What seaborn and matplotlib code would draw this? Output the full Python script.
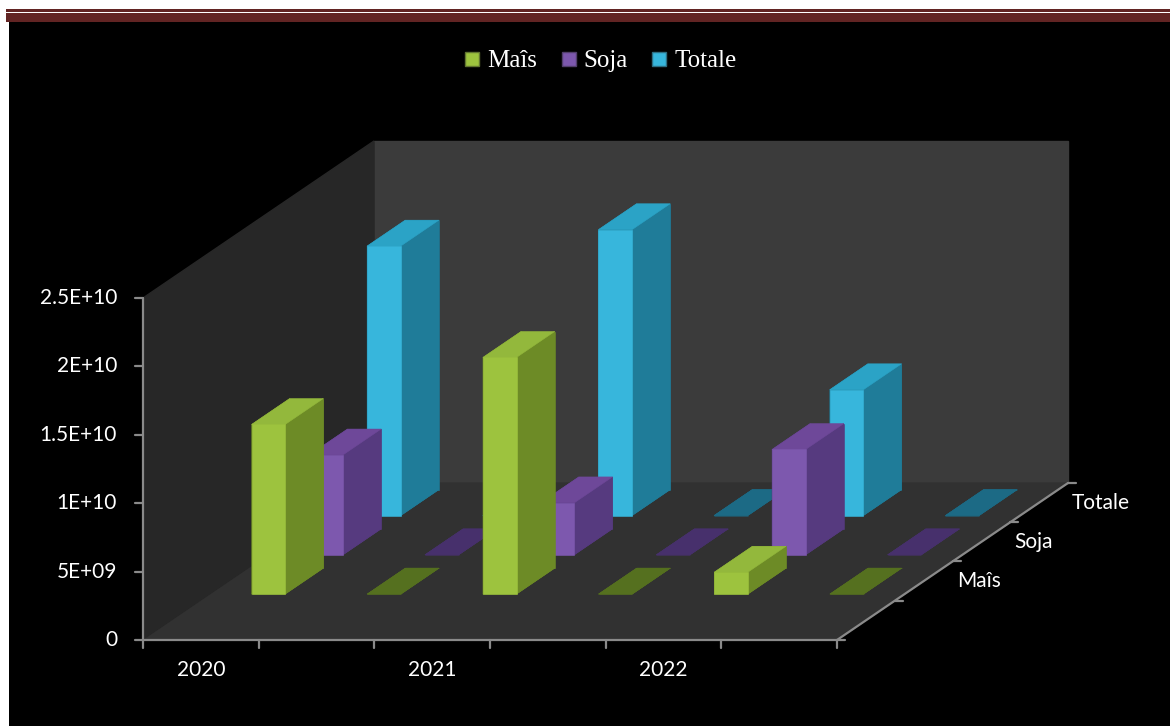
import numpy as np
import matplotlib
matplotlib.use("Agg")
import matplotlib.pyplot as plt
import seaborn as sns
from matplotlib.patches import Rectangle
from matplotlib.lines import Line2D
from mpl_toolkits.mplot3d import proj3d

# ---------------- data ----------------
categories = ["2020", "", "2021", "", "2022", ""]
series = ["Maîs", "Soja", "Totale"]
mais = [1.24e10, 0, 1.73e10, 0, 1.6e9, 0]
soja = [7.3e9, 0, 3.8e9, 0, 7.7e9, 0]
totale = [1.97e10, 0, 2.09e10, 0, 9.2e9, 0]
z_ticks = [0, 5e9, 1e10, 1.5e10, 2e10, 2.5e10]
z_tick_labels = ["0", "5E+09", "1E+10", "1.5E+10", "2E+10", "2.5E+10"]

# ---------------- style ----------------
sns.set_theme(style="dark")
plt.rcParams["font.family"] = ["Lato", "DejaVu Sans"]
try:
    plt.rcParams["axes3d.automargin"] = False
except KeyError:
    pass

# per series: front, side, top, flat (zero height)
face_styles = [
    dict(front="#9DC33E", side="#6D8B26", top="#93B83C", flat="#55701F"),
    dict(front="#7D58AE", side="#563A7F", top="#6E4899", flat="#47306C"),
    dict(front="#37B6DC", side="#1F7C99", top="#2BA3C6", flat="#1C6A85"),
]
legend_colors = sns.color_palette(["#9DC33E", "#7D58AE", "#37B6DC"])

W, H = 1170, 726
fig = plt.figure(figsize=(W / 100, H / 100), dpi=100, facecolor="white")

# page decoration: black panel and maroon rules at the top
fig.add_artist(Rectangle((9 / W, 0), 1 - 9 / W, (H - 22) / H,
                         transform=fig.transFigure, facecolor="black",
                         edgecolor="none", zorder=-10))
fig.add_artist(Rectangle((6 / W, (H - 12) / H), 1 - 6 / W, 3 / H,
                         transform=fig.transFigure, facecolor="#622423",
                         edgecolor="none", zorder=-9))
fig.add_artist(Rectangle((6 / W, (H - 22) / H), 1 - 6 / W, 9 / H,
                         transform=fig.transFigure, facecolor="#622423",
                         edgecolor="none", zorder=-9))

hax = W / H
ax = fig.add_axes([0, (1 - hax) / 2, 1, hax], projection="3d",
                  proj_type="ortho", computed_zorder=False)
ax.patch.set_visible(False)
ax.grid(False)

# frame geometry of the plot box (pixels, rows counted from top)
FRONT_LEFT, FRONT_RIGHT = 143, 837
FRONT_BOTTOM, FRONT_TOP = 640, 298
DEPTH_DX, DEPTH_DY = 231, 157

_orig_get_proj = ax.get_proj


def oblique_proj():
    _orig_get_proj()
    x0, x1 = ax.get_xlim3d()
    y0, y1 = ax.get_ylim3d()
    z0, z1 = ax.get_zlim3d()
    sx = (FRONT_RIGHT - FRONT_LEFT) / (x1 - x0)
    syx = DEPTH_DX / (y1 - y0)
    syy = DEPTH_DY / (y1 - y0)
    sz = (FRONT_BOTTOM - FRONT_TOP) / (z1 - z0)
    P = np.array([
        [sx, syx, 0.0, FRONT_LEFT - sx * x0 - syx * y0],
        [0.0, syy, sz, (H - FRONT_BOTTOM) - syy * y0 - sz * z0],
        [-1e-3 / (x1 - x0), 1.0 / (y1 - y0), -1e-3 / (z1 - z0), 0.0],
        [0.0, 0.0, 0.0, 1.0],
    ])
    T = ax.transData.inverted().get_affine().get_matrix()
    A = np.eye(4)
    A[0, 0], A[0, 1], A[0, 3] = T[0, 0], T[0, 1], T[0, 2]
    A[1, 0], A[1, 1], A[1, 3] = T[1, 0], T[1, 1], T[1, 2]
    return A @ P


ax.get_proj = oblique_proj

# ---------------- bars ----------------
n = len(categories)
bar_w, bar_d = 0.29, 0.66
xs = np.arange(n) + 0.5 - bar_w / 2
values = [mais, soja, totale]
for r, (vals, st) in enumerate(zip(values, face_styles)):
    ys = np.full(n, r + 1.5 - bar_d / 2)
    fcs = []
    for v in vals:
        if v == 0:
            fcs += [st["flat"]] * 6
        else:
            # order: -z, +z, -y, +y, -x, +x
            fcs += [st["side"], st["top"], st["front"], st["side"], st["side"], st["side"]]
    ax.bar3d(xs, ys, np.zeros(n), bar_w, bar_d, vals, color=fcs,
             edgecolor=fcs, linewidth=0.4, shade=False, zorder=3 - r)

# ---------------- limits / panes ----------------
X0, X1 = 0, n
Y0, Y1 = 0, len(series) + 1
Z0, Z1 = z_ticks[0], z_ticks[-1]
ax.set_xlim(X0, X1)
ax.set_ylim(Y0, Y1)
ax.set_zlim(Z0, Z1)
ax.set_xticks([])
ax.set_yticks([])
ax.set_zticks([])
for a, c in zip((ax.xaxis, ax.yaxis, ax.zaxis), ("#272727", "#3b3b3b", "#313131")):
    a.line.set_visible(False)
    a.set_pane_color(c)

sx = (FRONT_RIGHT - FRONT_LEFT) / (X1 - X0)
sz = (FRONT_BOTTOM - FRONT_TOP) / (Z1 - Z0)
axis_color = "#8a8a8a"
lw = 1.6
ax.plot([X0, X1], [Y0, Y0], [Z0, Z0], color=axis_color, lw=lw, zorder=4)
ax.plot([X0, X0], [Y0, Y0], [Z0, Z1], color=axis_color, lw=lw, zorder=4)
ax.plot([X1, X1], [Y0, Y1], [Z0, Z0], color=axis_color, lw=lw, zorder=4)

tick_px = 8
for xt in range(X0, X1 + 1):
    ax.plot([xt, xt], [Y0, Y0], [Z0, Z0 - tick_px / sz], color=axis_color, lw=lw, zorder=4)
for zt in z_ticks:
    ax.plot([X0, X0 - tick_px / sx], [Y0, Y0], [zt, zt], color=axis_color, lw=lw, zorder=4)
for yt in range(Y0, Y1 + 1):
    ax.plot([X1, X1 + tick_px / sx], [yt, yt], [Z0, Z0], color=axis_color, lw=lw, zorder=4)

# draw once so the projection matrix exists, then place labels in 2D
fig.canvas.draw()


def label(x, y, z, s, **kw):
    vx, vy, _ = proj3d.proj_transform(x, y, z, ax.M)
    ax.text2D(vx, vy, s, transform=ax.transData, color="white",
              fontsize=15, zorder=5, **kw)


for zt, lab in zip(z_ticks, z_tick_labels):
    label(X0 - 26 / sx, Y0, zt, lab, ha="right", va="center")
for i, cat in enumerate(categories):
    if cat:
        label(i + 0.5, Y0, Z0 - 30 / sz, cat, ha="center", va="center")
for r, name in enumerate(series):
    label(X1 + 33 / sx, r + 1.5, Z0, name, ha="left", va="center")

# legend
handles = [Line2D([], [], marker="s", ls="", markersize=10,
                  markerfacecolor=c, markeredgecolor=sns.dark_palette(c, 3)[1])
           for c in legend_colors]
fig.legend(handles, series, loc="center", bbox_to_anchor=(600 / W, 1 - 61 / H),
           ncol=3, frameon=False,
           prop={"family": ["Liberation Serif", "DejaVu Serif"], "size": 18},
           labelcolor="white", handlelength=0.7, handletextpad=0.25,
           columnspacing=0.9)

fig.savefig("out.png", dpi=100, facecolor=fig.get_facecolor())
